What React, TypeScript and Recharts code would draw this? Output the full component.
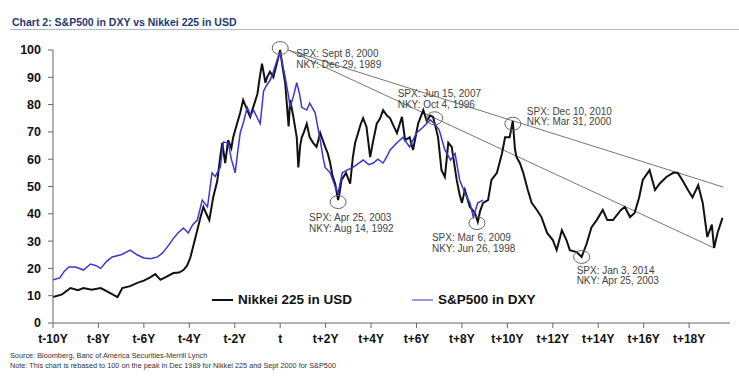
import React from 'react';
import { LineChart, Line, XAxis, YAxis, ReferenceLine, ReferenceDot } from 'recharts';

// years relative to each index's peak (t), values rebased to 100 at the peak
const nikkeiYears = [
  -10, -9.6, -9.23, -8.9, -8.66, -8.3, -7.9, -7.6, -7.16, -6.95, -6.6, -6.29, -6, -5.7, -5.5, -5.27, -5, -4.7, -4.45, -4.26,
  -4.1, -3.96, -3.8, -3.65, -3.5, -3.38, -3.25, -3.12, -2.95, -2.77, -2.62, -2.55, -2.42, -2.29, -2.15, -2.07, -1.9, -1.76, -1.63, -1.45,
  -1.32, -1.15, -1, -0.9, -0.8, -0.65, -0.58, -0.45, -0.3, -0.15, 0, 0.1, 0.22, 0.37, 0.44, 0.58, 0.73, 0.8, 0.88, 0.95,
  1.05, 1.17, 1.3, 1.45, 1.6, 1.76, 1.98, 2.1, 2.2, 2.3, 2.42, 2.55, 2.62, 2.7, 2.9, 3.08, 3.2, 3.3, 3.43, 3.55,
  3.65, 3.8, 3.96, 4.1, 4.25, 4.4, 4.53, 4.7, 4.84, 5, 5.14, 5.36, 5.5, 5.7, 5.85, 6.07, 6.3, 6.45, 6.6, 6.73,
  6.95, 7.1, 7.25, 7.4, 7.55, 7.77, 7.9, 8, 8.13, 8.35, 8.57, 8.7, 8.8, 8.93, 9.15, 9.3, 9.54, 9.76, 9.9, 10.1,
  10.24, 10.33, 10.4, 10.55, 10.7, 10.9, 11.07, 11.3, 11.5, 11.75, 12, 12.17, 12.4, 12.6, 12.75, 13.05, 13.27, 13.5, 13.7, 13.93,
  14.2, 14.4, 14.65, 15, 15.17, 15.4, 15.6, 15.8, 15.96, 16.26, 16.5, 16.7, 17, 17.3, 17.5, 17.7, 17.95, 18.15, 18.4, 18.6,
  18.8, 19, 19.1, 19.25, 19.47,
];
const nikkeiValues = [
  9.5, 10.5, 12.8, 12, 12.8, 12.2, 12.8, 11.5, 9.5, 12.8, 13.5, 14.7, 15.5, 16.8, 17.9, 15.8, 17, 18.3, 18.5, 19.4,
  21, 23.8, 29, 34, 39, 42.5, 40, 37.7, 46, 52, 62, 66, 58.6, 67, 64, 68, 73, 77, 81.7, 78,
  75.5, 80, 84, 90, 95, 88, 90, 92, 90, 95, 100, 94, 88, 72, 81.7, 75.5, 68, 57, 65, 68,
  70, 73, 68, 66, 64.5, 69.6, 64.5, 62, 58.6, 54, 51, 45, 48, 52.4, 55, 51, 60.8, 66, 69.6, 73,
  75, 71.8, 60.8, 67, 73, 75, 78, 76, 75, 72, 69.6, 75.5, 67, 68, 63.4, 73, 78, 74, 76, 75.5,
  68, 56, 53.5, 66, 64.5, 52.4, 47, 44, 48.7, 42.5, 40.3, 37, 41, 44, 45, 52.4, 55, 62, 68, 68,
  74, 64, 60.8, 58.6, 55, 48.7, 44, 41.4, 38.8, 33, 30.4, 26.7, 34, 30.4, 26.7, 26, 24.2, 29.3, 35, 37.7,
  41.4, 37.7, 37.7, 41.4, 42.5, 38.8, 40.3, 46, 52.4, 56, 48.7, 51, 53.5, 55, 55, 52.4, 48.7, 46, 50.5, 44,
  31.5, 36, 27.5, 33, 38.5,
];

const spxYears = [
  -10, -9.7, -9.5, -9.3, -9, -8.66, -8.35, -8.1, -7.9, -7.65, -7.4, -7, -6.6, -6.3, -6, -5.7, -5.4, -5.2, -4.97, -4.7,
  -4.5, -4.26, -4.05, -3.85, -3.65, -3.43, -3.2, -3, -2.86, -2.64, -2.5, -2.29, -2.15, -1.98, -1.88, -1.76, -1.6, -1.45, -1.3, -1.17,
  -1, -0.88, -0.73, -0.6, -0.44, -0.3, -0.15, 0, 0.1, 0.22, 0.35, 0.44, 0.58, 0.73, 0.85, 0.95, 1.17, 1.3, 1.54, 1.65,
  1.76, 1.9, 1.98, 2.2, 2.42, 2.55, 2.73, 2.94, 3.2, 3.45, 3.65, 3.9, 4.1, 4.3, 4.53, 4.7, 4.84, 5.14, 5.4, 5.7,
  6, 6.3, 6.6, 6.8, 7, 7.25, 7.5, 7.7, 7.9, 8.13, 8.35, 8.5, 8.7, 8.93,
];
const spxValues = [
  15.8, 16.5, 19, 20.5, 20.5, 19.4, 21.6, 21, 20, 22.5, 24.2, 25, 26.7, 25, 23.8, 23.5, 24.2, 25.5, 27.8, 31,
  33, 34.8, 33, 36, 37.7, 45, 42.5, 55, 53.7, 57, 66.3, 66, 60, 55, 62, 69.6, 74, 79, 76, 78,
  75, 73, 85, 87, 89, 92, 96, 99, 95, 90, 84, 79, 83, 88, 84, 79, 78, 80.5, 77, 72,
  67, 60, 57, 55, 50, 47.6, 55, 56, 57, 58.5, 59.7, 58, 58.6, 60, 58.6, 61, 63.4, 66, 68, 64.5,
  69.6, 71.8, 74.4, 73, 70.7, 63.4, 59.7, 62, 52.4, 47.6, 44, 38.8, 44, 45,
];

const xTicks = [-10, -8, -6, -4, -2, 0, 2, 4, 6, 8, 10, 12, 14, 16, 18];
const xTickLabels = ['t-10Y', 't-8Y', 't-6Y', 't-4Y', 't-2Y', 't', 't+2Y', 't+4Y', 't+6Y', 't+8Y', 't+10Y', 't+12Y', 't+14Y', 't+16Y', 't+18Y'];
const yTicks = [0, 10, 20, 30, 40, 50, 60, 70, 80, 90, 100];

// circled turning points
const markYears = [0, 6.8, 10.24, 2.55, 8.66, 13.27];
const markValues = [100.7, 75, 73, 44.3, 36.6, 24.2];
const spxDates = ['SPX: Sept 8, 2000', 'SPX: Jun 15, 2007', 'SPX: Dec 10, 2010', 'SPX: Apr 25, 2003', 'SPX: Mar 6, 2009', 'SPX: Jan 3, 2014'];
const nkyDates = ['NKY: Dec 29, 1989', 'NKY: Oct 4, 1996', 'NKY: Mar 31, 2000', 'NKY: Aug 14, 1992', 'NKY: Jun 26, 1998', 'NKY: Apr 25, 2003'];

// trend lines from the peak
const upperTrend = [{ x: 0.35, y: 100 }, { x: 19.5, y: 49.8 }];
const lowerTrend = [{ x: 0.35, y: 100 }, { x: 19.1, y: 27.5 }];

const nikkeiData = nikkeiYears.map((year, i) => ({ year, value: nikkeiValues[i] }));
const spxData = spxYears.map((year, i) => ({ year, value: spxValues[i] }));

// label offsets from each circle centre, in px
const labelOffsets = [
  [16, 9], [-37, -21], [14, -9], [-29, 19], [-45, 18], [-5, 17],
];

const FONT = '"Liberation Sans", Arial, Helvetica, sans-serif';

function Mark({ cx, cy, index }: { cx?: number; cy?: number; index: number }) {
  if (cx == null || cy == null) return null;
  const [dx, dy] = labelOffsets[index];
  return (
    <g>
      <ellipse cx={cx} cy={cy} rx={8} ry={6.5} fill="none" stroke="#666" strokeWidth={1} />
      <text x={cx + dx} y={cy + dy} fontSize={10} fill="#444" fontFamily={FONT}>
        {spxDates[index]}
      </text>
      <text x={cx + dx} y={cy + dy + 10.5} fontSize={10} fill="#444" fontFamily={FONT}>
        {nkyDates[index]}
      </text>
    </g>
  );
}

export default function App() {
  return (
    <div style={{ position: 'absolute', left: 0, top: 0, width: 739, height: 380, background: '#fff', fontFamily: FONT }}>
      <div style={{ position: 'absolute', left: 12, top: 16, fontSize: 10.5, fontWeight: 700, color: '#1f3a6e' }}>
        Chart 2: S&amp;P500 in DXY vs Nikkei 225 in USD
      </div>
      <div style={{ position: 'absolute', left: 10, top: 29, width: 729, height: 1, background: '#a9b9d2' }} />

      <LineChart width={739} height={380} margin={{ top: 50, right: 9, bottom: 27, left: 8 }}>
        <XAxis
          dataKey="year"
          type="number"
          domain={[-10, 19.8]}
          ticks={xTicks}
          allowDataOverflow
          tickFormatter={(v: number) => xTickLabels[xTicks.indexOf(v)] ?? ''}
          tick={{ fontSize: 12, fontWeight: 700, fill: '#111', fontFamily: FONT }}
          stroke="#666"
          tickSize={5}
          tickMargin={6}
          height={30}
        />
        <YAxis
          type="number"
          domain={[0, 100]}
          ticks={yTicks}
          tick={{ fontSize: 12.5, fontWeight: 700, fill: '#111', fontFamily: FONT }}
          stroke="#666"
          tickSize={5}
          tickMargin={7}
          width={45}
        />
        <ReferenceLine segment={upperTrend} stroke="#777" strokeWidth={1} ifOverflow="visible" />
        <ReferenceLine segment={lowerTrend} stroke="#777" strokeWidth={1} ifOverflow="visible" />
        <Line
          data={nikkeiData}
          dataKey="value"
          type="linear"
          stroke="#111"
          strokeWidth={2}
          dot={false}
          isAnimationActive={false}
        />
        <Line
          data={spxData}
          dataKey="value"
          type="linear"
          stroke="#3838d0"
          strokeWidth={1.5}
          dot={false}
          isAnimationActive={false}
        />
        {markYears.map((year, i) => (
          <ReferenceDot
            key={i}
            x={year}
            y={markValues[i]}
            r={8}
            ifOverflow="visible"
            shape={(p: any) => <Mark cx={p.cx} cy={p.cy} index={i} />}
          />
        ))}
      </LineChart>

      <div style={{ position: 'absolute', left: 212, top: 292, display: 'flex', alignItems: 'center', fontSize: 13.5, fontWeight: 700, color: '#111' }}>
        <span style={{ display: 'inline-block', width: 21, height: 2, background: '#111', marginRight: 5 }} />
        Nikkei 225 in USD
      </div>
      <div style={{ position: 'absolute', left: 412, top: 292, display: 'flex', alignItems: 'center', fontSize: 13.5, fontWeight: 700, color: '#111' }}>
        <span style={{ display: 'inline-block', width: 21, height: 2, background: '#9a9ae0', marginRight: 5 }} />
        S&amp;P500 in DXY
      </div>

      <div style={{ position: 'absolute', left: 10, top: 351, fontSize: 7.3, color: '#333' }}>
        Source: Bloomberg, Banc of America Securities-Merrill Lynch
      </div>
      <div style={{ position: 'absolute', left: 10, top: 361, fontSize: 7.3, color: '#333' }}>
        Note: This chart is rebased to 100 on the peak in Dec 1989 for Nikkei 225 and Sept 2000 for S&amp;P500
      </div>
    </div>
  );
}
